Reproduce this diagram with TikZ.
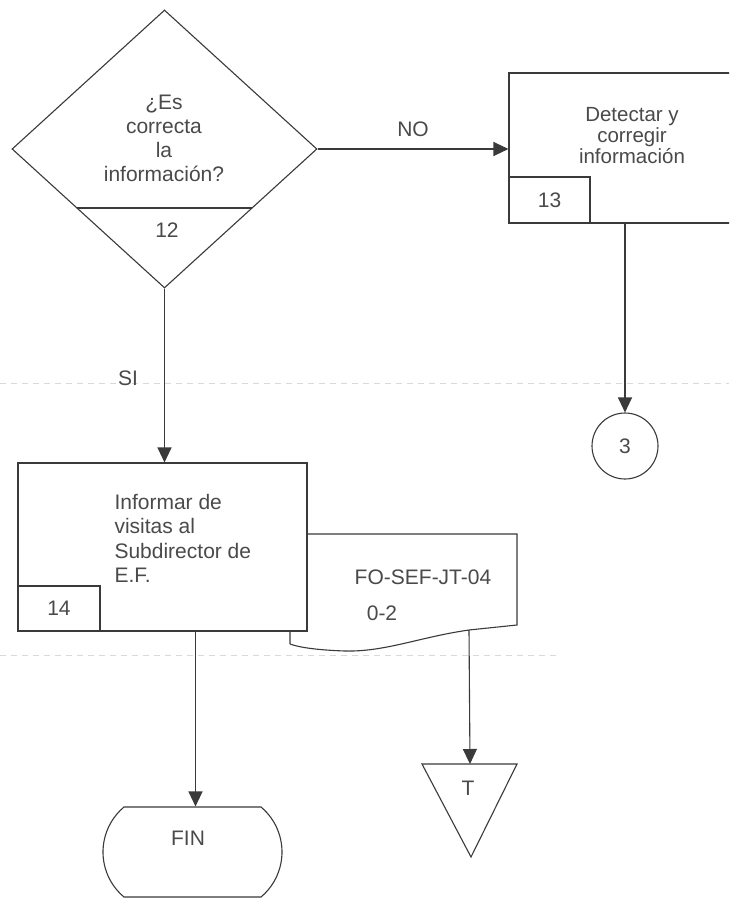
\documentclass[tikz,border=0pt]{standalone}
\usepackage{fontspec}
\setmainfont{Liberation Sans}
\usetikzlibrary{shapes.geometric,shapes.misc,arrows.meta,calc}
\definecolor{ink}{HTML}{3A3A3A}
\definecolor{txt}{HTML}{4A4A4A}
\begin{document}
\begin{tikzpicture}[x=1pt,y=-1pt,
  line width=1.1pt,
  every node/.style={text=txt,font=\fontsize{21}{24.5}\selectfont},
  boxst/.style={draw=ink,fill=white,line width=1.1pt,inner sep=0pt},
  numbox/.style={draw=ink,fill=white,line width=1.1pt,inner sep=0pt,anchor=south west},
  flow/.style={draw=ink,line width=1.1pt,-{Triangle[length=15pt,width=14pt]}},
  faint/.style={draw=gray!30,line width=0.8pt,dash pattern=on 6pt off 5pt},
  lbl/.style={align=center,inner sep=0pt}]
\useasboundingbox (0,0) rectangle (729,902);
\clip (0,0) rectangle (729,902);
\fill[white] (0,0) rectangle (729,902);

% faint scan lines
\draw[faint] (0,383) -- (729,383);
\draw[faint] (0,655) -- (560,655);

% decision 12
\node[diamond,draw=ink,minimum width=305pt,minimum height=278pt,inner sep=0pt] (dia) at (164.5,149) {};
\draw[ink] (76.7,208) -- (252.3,208);
\node[lbl,font=\fontsize{21}{24}\selectfont] (diatext) at (164,138.5) {¿Es\\correcta\\la\\información?};
\node[lbl] (n12) at (167,230) {12};

% process 13
\node[boxst,minimum width=240pt,minimum height=150pt] (box13) at (629,148) {};
\node[numbox,minimum width=81pt,minimum height=46pt] (n13) at (box13.south west) {13};
\node[lbl,font=\fontsize{20.5}{21}\selectfont] (t13) at (632,136) {Detectar y\\corregir\\información};

% connector 3
\node[circle,draw=ink,minimum size=66pt,inner sep=0pt] (c3) at (625,446) {3};

% document
\coordinate (docout) at (469,630);
\draw[ink,fill=white] (290,644) -- (290,534) -- (517,534) -- (517,625) -- (docout)
  .. controls (420,637) and (385,652) .. (345,651)
  .. controls (315,650) and (298,647) .. (290,644);
\node[lbl] (doc1) at (423,577) {FO-SEF-JT-04};
\node[lbl] (doc2) at (382,613) {0-2};

% process 14
\node[boxst,minimum width=289pt,minimum height=168pt] (box14) at (162.5,547) {};
\node[numbox,minimum width=82pt,minimum height=45pt] (n14) at (box14.south west) {14};
\node[align=left,anchor=west,inner sep=0pt,font=\fontsize{21}{24.4}\selectfont] (t14) at (114,538.5) {Informar de\\visitas al\\Subdirector de\\E.F.};

% terminal FIN
\node[rounded rectangle,rounded rectangle arc length=100,draw=ink,minimum width=179pt,minimum height=90pt,inner sep=0pt] (fin) at (192.5,852) {};
\node[lbl] (fintext) at (188,838) {FIN};

% triangle T
\coordinate (ttop) at (470,764);
\draw[ink] (422,764) -- (517,764) -- (471,857) -- cycle;
\node[lbl] (tt) at (468,788) {T};

% connectors
\draw[flow] (dia.east) -- (dia.east -| box13.west) node[midway,above=12pt,inner sep=0pt] (no) {NO};
\draw[flow] (dia.south) -- (dia.south |- box14.north);
\node[lbl] (si) at (128,378) {SI};
\draw[flow] (c3.north |- box13.south) -- (c3.north);
\draw[flow] ($(fin.north |- box14.south)+(3,0)$) -- ($(fin.north)+(3,0)$);
\draw[flow] (docout) -- (ttop);
\end{tikzpicture}
\end{document}
